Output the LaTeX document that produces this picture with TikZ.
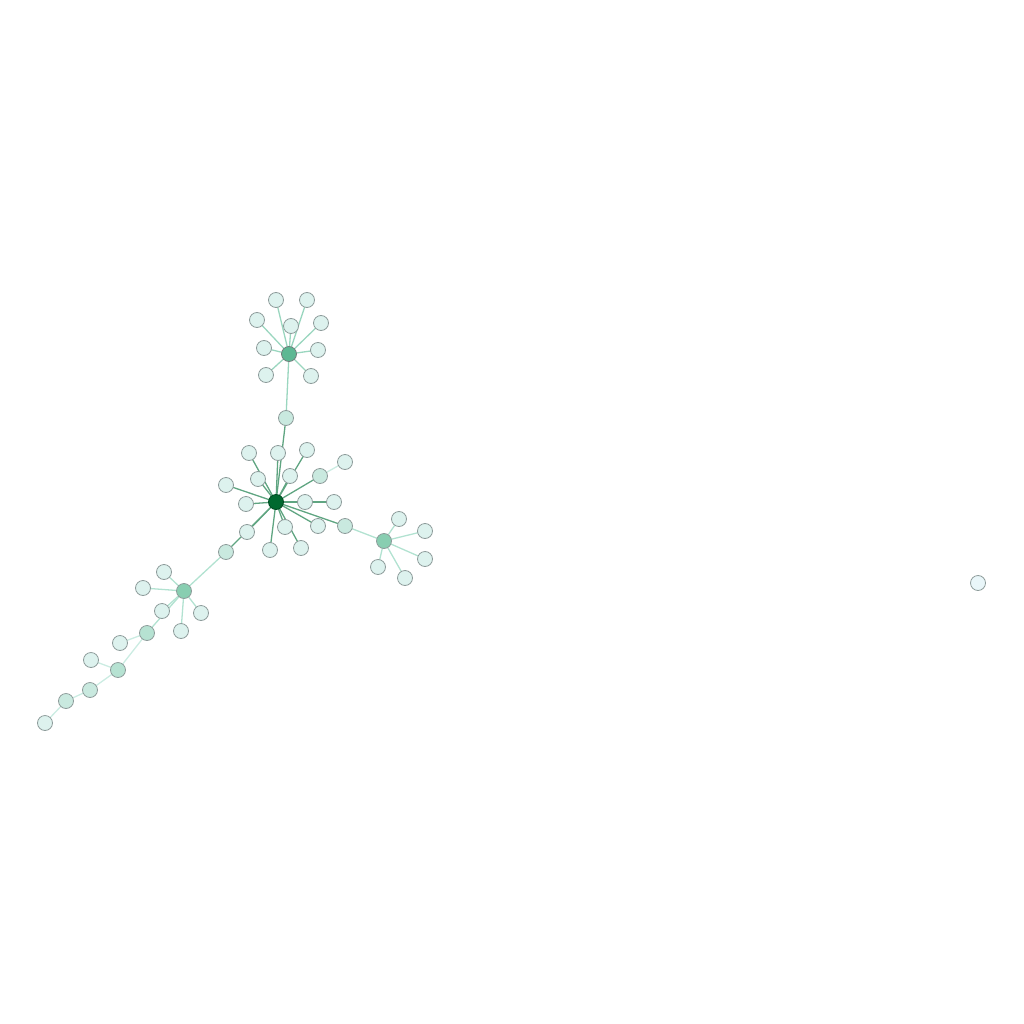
\documentclass[tikz,border=0pt]{standalone}
\usepackage{xcolor}
\usetikzlibrary{positioning,backgrounds}
\definecolor{leaffill}{HTML}{DDF2EE}
\definecolor{midfill}{HTML}{C9E9DF}
\definecolor{deepfill}{HTML}{B6E2D2}
\definecolor{hubfill}{HTML}{88CEB1}
\definecolor{topfill}{HTML}{5CB893}
\definecolor{mainfill}{HTML}{00692F}
\definecolor{lonefill}{HTML}{E9F6F9}
\definecolor{rimgray}{HTML}{8E9C9B}
\definecolor{edgemain}{HTML}{5FA581}
\definecolor{edgetop}{HTML}{9AD6BF}
\definecolor{edgehub}{HTML}{B2E2D1}
\definecolor{edgefaint}{HTML}{CBECE2}
\tikzset{
  vert/.style={circle, draw=rimgray, line width=0.8pt, fill=leaffill, minimum size=15pt, inner sep=0pt},
  midvert/.style={vert, fill=midfill},
  deepvert/.style={vert, fill=deepfill},
  hubvert/.style={vert, fill=hubfill},
  topvert/.style={vert, fill=topfill, draw=rimgray!80!black},
  mainvert/.style={vert, fill=mainfill, draw=mainfill!70!black},
  lonevert/.style={vert, fill=lonefill},
  emain/.style={draw=edgemain, line width=1.3pt},
  etop/.style={draw=edgetop, line width=1.3pt},
  ehub/.style={draw=edgehub, line width=1.3pt},
  efaint/.style={draw=edgefaint, line width=1.3pt}
}
\begin{document}
\begin{tikzpicture}[x=1pt, y=-1pt]
    \useasboundingbox (0,0) rectangle (1024,1024);

    % hubs
    \node [mainvert] (m) at (276,502) {};
    \node [topvert] (t) at (289,354) {};
    \node [hubvert] (r) at (384,541) {};
    \node [hubvert] (l) at (184,591) {};

    % upper cluster
    \foreach \n/\x/\y in {t1/276/300, t2/307/300, t3/257/320, t4/291/326, t5/321/323,
                          t6/264/348, t7/318/350, t8/266/375, t9/311/376}
        \node [vert] (\n) at (\x,\y) {};
    \node [midvert] (tm) at (286,418) {};

    % main cluster
    \foreach \n/\x/\y in {m1/249/453, m2/278/453, m3/307/450, m4/258/479, m5/290/476,
                          m6/226/485, m7/246/504, m8/305/502, m9/334/502, m10/285/527,
                          m11/318/526, m12/247/532, m13/270/550, m14/301/548}
        \node [vert] (\n) at (\x,\y) {};
    \node [midvert] (mq) at (320,476) {};
    \node [vert] (mqa) at (345,462) {};
    \node [midvert] (mr) at (345,526) {};
    \node [midvert] (ml) at (226,552) {};

    % right cluster
    \foreach \n/\x/\y in {r1/399/519, r2/425/531, r3/425/559, r4/378/567, r5/405/578}
        \node [vert] (\n) at (\x,\y) {};

    % left cluster and chain
    \foreach \n/\x/\y in {l1/164/572, l2/143/588, l3/201/613, l4/181/631, l5/162/611,
                          c2/120/643, c4/91/660, c7/45/723}
        \node [vert] (\n) at (\x,\y) {};
    \node [deepvert] (c1) at (147,633) {};
    \node [deepvert] (c3) at (118,670) {};
    \node [midvert] (c5) at (90,690) {};
    \node [midvert] (c6) at (66,701) {};

    % lone vertex
    \node [lonevert] (z) at (978,583) {};

    % edges behind the vertices
    \begin{pgfonlayer}{background}
        \foreach \n in {t1,t2,t3,t4,t5,t6,t7,t8,t9,tm}
            \draw [etop] (t.center) -- (\n.center);
        \foreach \n in {m1,m2,m3,m4,m5,m6,m7,m8,m9,m10,m11,m12,m13,m14,mq,mr,ml,tm}
            \draw [emain] (m.center) -- (\n.center);
        \draw [efaint] (mq.center) -- (mqa.center);
        \foreach \n in {r1,r2,r3,r4,r5,mr}
            \draw [ehub] (r.center) -- (\n.center);
        \foreach \n in {l1,l2,l3,l4,l5,c1,ml}
            \draw [ehub] (l.center) -- (\n.center);
        \draw [efaint] (c1.center) -- (c2.center);
        \draw [efaint] (c1.center) -- (c3.center);
        \draw [efaint] (c3.center) -- (c4.center);
        \draw [efaint] (c3.center) -- (c5.center);
        \draw [efaint] (c5.center) -- (c6.center);
        \draw [efaint] (c6.center) -- (c7.center);
    \end{pgfonlayer}
\end{tikzpicture}
\end{document}
